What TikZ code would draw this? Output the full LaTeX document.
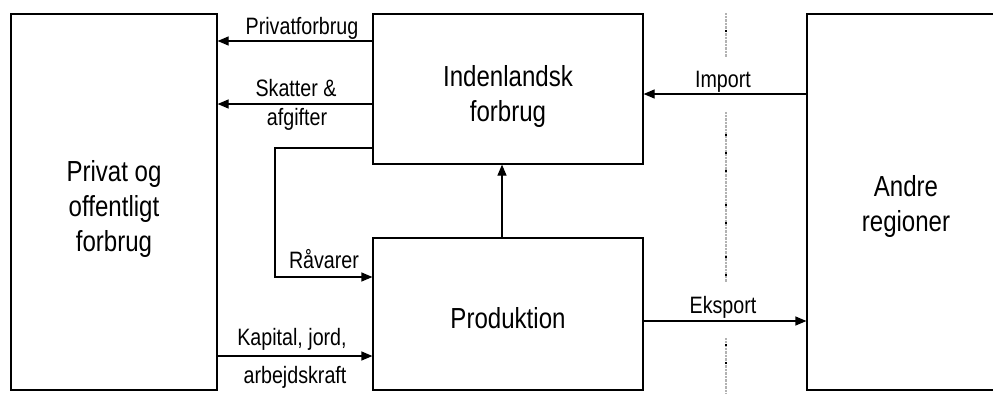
\documentclass[tikz,border=0pt]{standalone}
\usepackage{fontspec}
\setmainfont{Liberation Sans}[FakeStretch=0.83]
\usetikzlibrary{arrows.meta}
\tikzset{
  box/.style={draw, line width=1.2pt, minimum width=#1, inner sep=0pt},
  boxtxt/.style={align=center, font=\fontsize{29}{35}\selectfont, inner sep=0pt},
  arr/.style={line width=1.2pt, -{Triangle[length=11pt,width=9pt]}},
  lbl/.style={anchor=base, inner sep=0pt, font=\fontsize{23.7}{28}\selectfont},
  sep/.style={gray!60, line width=1.3pt, dash pattern=on 0.6pt off 0.8pt},
  sepdot/.style={fill=black}
}
\begin{document}
\begin{tikzpicture}[x=1pt,y=-1pt]
\useasboundingbox (0,0) rectangle (993,394);
\clip (0,0) rectangle (993,394);
% boxes
\node[box=206pt, minimum height=376pt, label={[boxtxt,yshift=-7pt]center:Privat og\\ offentligt\\ forbrug}] (priv) at (114,202) {};
\node[box=270pt, minimum height=150pt, label={[boxtxt,yshift=-7pt]center:Indenlandsk\\forbrug}] (ind) at (508,89) {};
\node[box=270pt, minimum height=152pt, label={[boxtxt,yshift=-4pt]center:Produktion}] (prod) at (508,314) {};
\node[box=198pt, minimum height=376pt, label={[boxtxt,yshift=-4pt]center:Andre\\ regioner}] (andre) at (906,202) {};
% separator
\draw[sep] (726,13) -- (726,57);
\draw[sep] (726,112) -- (726,282);
\draw[sep] (726,338) -- (726,393);
\foreach \yy [count=\i] in {31,135,153,171,205,223,257,275,345,363}
  \fill[sepdot] (725,\yy-1.2) rectangle (727.4,\yy+1.2);
% connectors
\draw[arr] (ind.west |- 0,41) -- (priv.east |- 0,41);
\draw[arr] (ind.west |- 0,104) -- (priv.east |- 0,104);
\draw[arr] (ind.west |- 0,148) -| (275,277) -- (prod.west |- 0,277);
\draw[arr] (priv.east |- 0,356) -- (prod.west |- 0,356);
\draw[arr] (502,0 |- prod.north) -- (502,0 |- ind.south);
\draw[arr] (andre.west |- 0,94) -- (ind.east |- 0,94);
\draw[arr] (prod.east |- 0,321) -- (andre.west |- 0,321);
% labels
\node[lbl] (lp) at (302,34.3) {Privatforbrug};
\node[lbl] (ls1) at (296,96.7) {Skatter \&};
\node[lbl] (ls2) at (297,125) {afgifter};
\node[lbl] (lr) at (324,268) {Råvarer};
\node[lbl] (lk1) at (292,345) {Kapital, jord,};
\node[lbl] (lk2) at (295,383) {arbejdskraft};
\node[lbl] (li) at (723,87) {Import};
\node[lbl] (le) at (723,313) {Eksport};
\end{tikzpicture}
\end{document}
